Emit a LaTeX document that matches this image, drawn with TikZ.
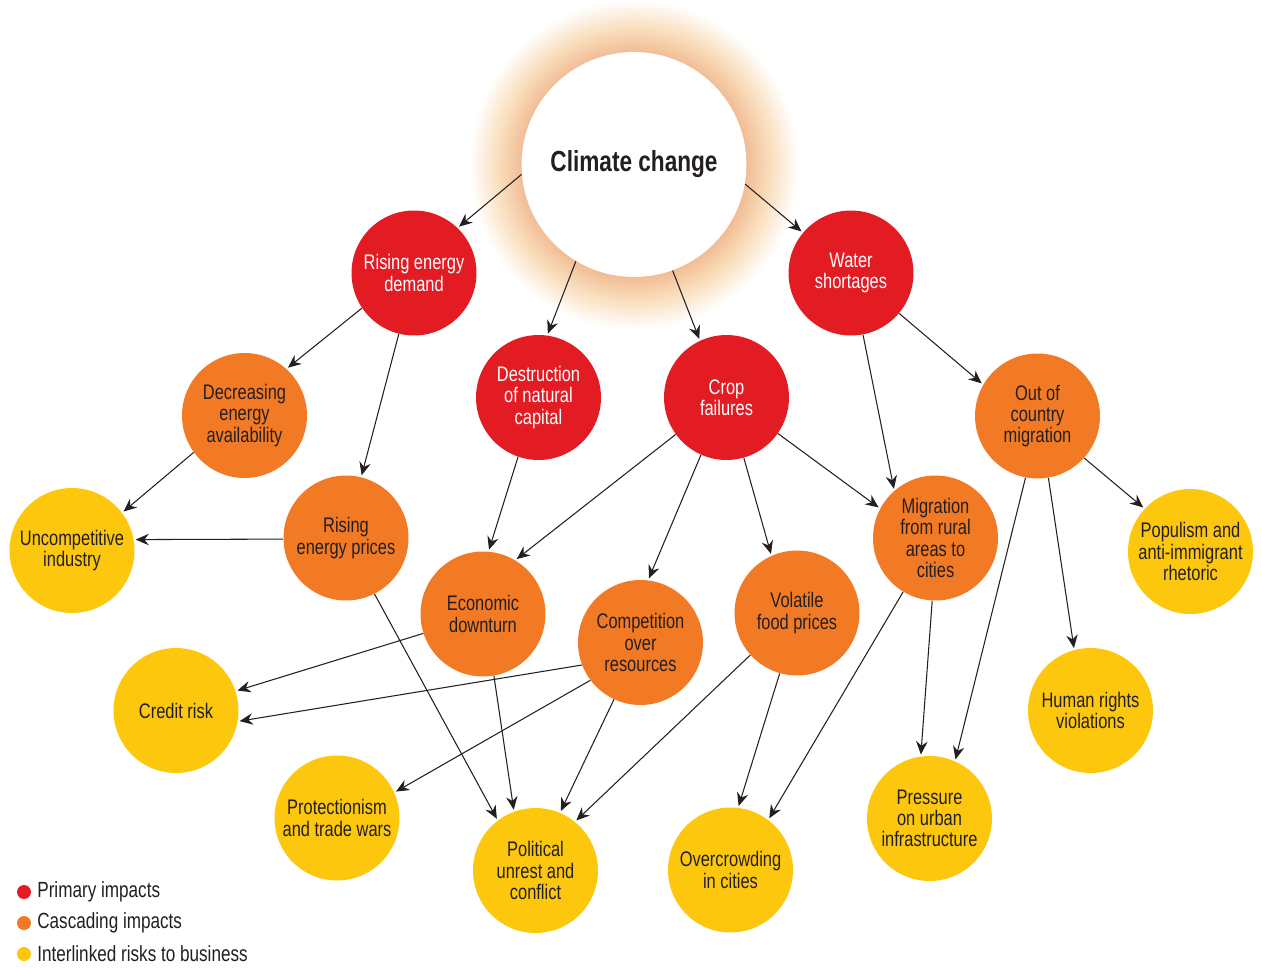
\documentclass[tikz,border=0pt]{standalone}
\usepackage{fontspec}
\setmainfont{Liberation Sans}[FakeStretch=0.78]
\usepackage{tikz}
\usetikzlibrary{arrows.meta}

\definecolor{primred}{HTML}{E31B23}
\definecolor{cascorange}{HTML}{F37A24}
\definecolor{riskyellow}{HTML}{FDC70E}
\definecolor{textdark}{HTML}{231F20}
\definecolor{glowin}{HTML}{F1BC95}
\definecolor{glowmid}{HTML}{F9DDBA}
\pgfdeclareradialshading{ccglow}{\pgfpoint{0bp}{0bp}}{color(0bp)=(glowin); color(17bp)=(glowin); color(20.5bp)=(glowmid); color(25bp)=(white); color(50bp)=(white)}

\begin{document}
\begin{tikzpicture}[x=0.02cm, y=-0.02cm,
		impact/.style={circle, minimum size=2.5cm, inner sep=0pt, align=center, font=\fontsize{12}{12.1}\selectfont},
		primary/.style={impact, fill=primred, text=white},
		cascade/.style={impact, fill=cascorange, text=textdark},
		risk/.style={impact, fill=riskyellow, text=textdark},
		link/.style={-{Stealth[length=7.5pt, width=6.5pt, inset=2.5pt]}, line width=0.6pt, draw=textdark, shorten >=1pt},
		legdot/.style={circle, minimum size=0.28cm, inner sep=0pt},
		legtext/.style={anchor=west, inner sep=0pt, text=textdark, font=\fontsize{12.5}{12.5}\selectfont}]
		\useasboundingbox (0,0) rectangle (1261,967);

		% Climate change with its glow.
		\shade[shading=ccglow] (634,164.5) circle (3.3cm);
		\node[circle, fill=white, minimum size=4.5cm, inner sep=0pt, text=textdark,
			font=\fontsize{16.5}{18}\selectfont\bfseries] (cc) at (634,164.5) {Climate change};

		% Primary impacts.
		\node[primary] (edemand) at (414,273) {Rising energy\\demand};
		\node[primary] (water) at (851,273) {Water\\shortages};
		\node[primary] (natcap) at (538.5,397.5) {Destruction\\of natural\\capital};
		\node[primary] (crop) at (726.5,397.5) {Crop\\failures};

		% Cascading impacts.
		\node[cascade] (decenergy) at (244.5,415.5) {Decreasing\\energy\\availability};
		\node[cascade] (outmig) at (1037.5,416) {Out of\\country\\migration};
		\node[cascade] (eprices) at (346,538) {Rising\\energy prices};
		\node[cascade] (ruralmig) at (935.5,538) {Migration\\from rural\\areas to\\cities};
		\node[cascade] (econ) at (483,614) {Economic\\downturn};
		\node[cascade] (compet) at (640.5,642.5) {Competition\\over\\resources};
		\node[cascade] (food) at (797,613) {Volatile\\food prices};

		% Interlinked risks to business.
		\node[risk] (uncomp) at (72,550.5) {Uncompetitive\\industry};
		\node[risk] (populism) at (1190.5,551.5) {Populism and\\anti-immigrant\\rhetoric};
		\node[risk] (credit) at (176,710.5) {Credit risk};
		\node[risk] (rights) at (1090.5,710.5) {Human rights\\violations};
		\node[risk] (protect) at (337,818) {Protectionism\\and trade wars};
		\node[risk] (unrest) at (535.5,870.5) {Political\\unrest and\\conflict};
		\node[risk] (crowding) at (730.5,870) {Overcrowding\\in cities};
		\node[risk] (urban) at (929.5,818.5) {Pressure\\on urban\\infrastructure};

		% Links.
		\draw[link] (cc.185) -- (edemand.46);
		\draw[link] (cc.239.5) -- (natcap.82);
		\draw[link] (cc.290) -- (crop.115);
		\draw[link] (cc.350) -- (water.140);
		\draw[link] (edemand.214) -- (decenergy.48);
		\draw[link] (edemand.256) -- (eprices.76);
		\draw[link] (decenergy.216) -- (uncomp.37);
		\draw[link] (eprices.181) -- (uncomp.10);
		\draw[link] (eprices.297) -- (unrest.127);
		\draw[link] (natcap.251) -- (econ.85);
		\draw[link] (crop.216) -- (econ.59);
		\draw[link] (crop.246) -- (compet.83);
		\draw[link] (crop.286) -- (food.114);
		\draw[link] (crop.325) -- (ruralmig.152);
		\draw[link] (water.281) -- (ruralmig.131);
		\draw[link] (water.320) -- (outmig.150);
		\draw[link] (outmig.318) -- (populism.137);
		\draw[link] (outmig.280) -- (rights.105);
		\draw[link] (outmig.259) -- (urban.66);
		\draw[link] (ruralmig.267) -- (urban.98);
		\draw[link] (ruralmig.239) -- (crowding.53);
		\draw[link] (econ.198) -- (credit.18);
		\draw[link] (econ.280) -- (unrest.110);
		\draw[link] (compet.201) -- (credit.350);
		\draw[link] (compet.217) -- (protect.24);
		\draw[link] (compet.245) -- (unrest.67);
		\draw[link] (food.222) -- (unrest.51);
		\draw[link] (food.254) -- (crowding.83);

		% Legend.
		\node[legdot, fill=primred] (lprim) at (24,892) {};
		\node[legdot, fill=cascorange] (lcasc) at (24,923) {};
		\node[legdot, fill=riskyellow] (lrisk) at (24,954) {};
		\node[legtext] at (37,892) {Primary impacts};
		\node[legtext] at (37,923) {Cascading impacts};
		\node[legtext] at (37,954) {Interlinked risks to business};
	\end{tikzpicture}
\end{document}
